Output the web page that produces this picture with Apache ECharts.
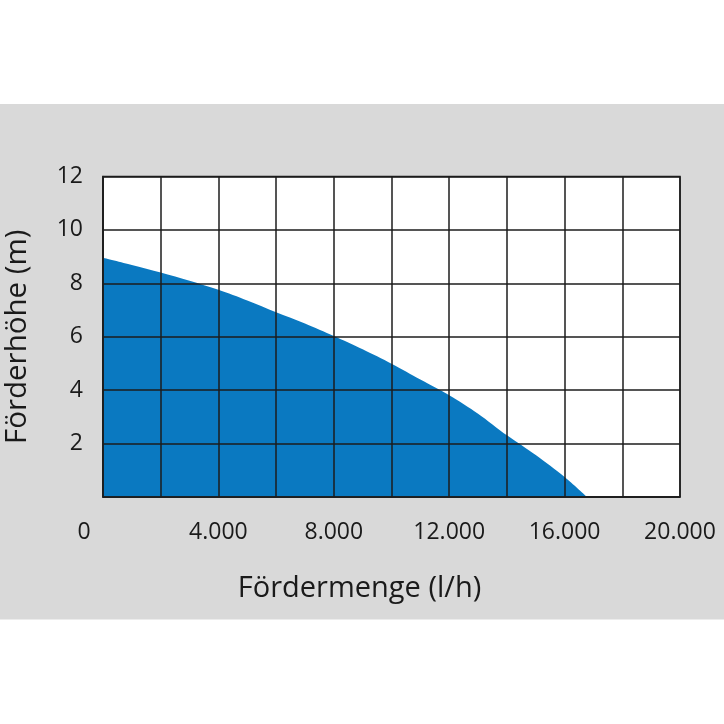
<!DOCTYPE html>
<html><head><meta charset="utf-8">
<script src="https://cdn.jsdelivr.net/npm/echarts@6/dist/echarts.min.js"></script>
<style>html,body{margin:0;padding:0;background:#fff}#c{width:724px;height:724px}</style>
</head><body><div id="c"></div>
<script>
var flowValues = [0, 1000, 2000, 3000, 4000, 5000, 6000, 7000, 8000, 9000, 10000, 11000, 12000, 13000, 14000, 15000, 16000, 16780];
var headValues = [8.96, 8.69, 8.41, 8.10, 7.76, 7.36, 6.92, 6.50, 6.03, 5.53, 4.99, 4.40, 3.81, 3.12, 2.31, 1.57, 0.75, 0];
var xAxisName = 'Fördermenge (l/h)';
var yAxisName = 'Förderhöhe (m)';

var seriesData = flowValues.map(function (f, i) { return [f, headValues[i]]; });
function fmtThousands(v) {
  return String(v).replace(/\B(?=(\d{3})+(?!\d))/g, '.');
}
var font = '"Open Sans", "Noto Sans", sans-serif';
var chart = echarts.init(document.getElementById('c'));
chart.setOption({
  backgroundColor: '#ffffff',
  animation: false,
  graphic: [{
    type: 'rect', z: -10, silent: true,
    shape: { x: 0, y: 104, width: 724, height: 515.5 },
    style: { fill: '#d9d9d9' }
  }],
  grid: {
    left: 103, right: 44, top: 176.5, bottom: 227,
    outerBoundsMode: 'none', containLabel: false,
    show: true, backgroundColor: '#ffffff', borderColor: '#1c1c1c', borderWidth: 1.5
  },
  xAxis: {
    type: 'value', min: 0, max: 20000, interval: 2000, z: 5,
    name: xAxisName, nameLocation: 'middle', nameGap: 77,
    nameTextStyle: { fontFamily: font, fontSize: 29, color: '#1a1a1a', padding: [0, 64, 0, 0] },
    axisLine: { show: true, lineStyle: { color: '#1c1c1c', width: 1.5 } },
    axisTick: { show: false },
    splitLine: { show: true, lineStyle: { color: '#1c1c1c', width: 1.5 } },
    axisLabel: {
      margin: 24, fontFamily: font, fontSize: 23, color: '#1a1a1a', showMinLabel: true, showMaxLabel: true,
      formatter: function (v) {
        if (v === 0) return '{z|0}';
        return v % 4000 === 0 ? fmtThousands(v) : '';
      },
      rich: { z: { fontFamily: font, fontSize: 23, color: '#1a1a1a', padding: [0, 38, 0, 0] } }
    }
  },
  yAxis: {
    type: 'value', min: 0, max: 12, interval: 2, z: 5,
    name: yAxisName, nameLocation: 'middle', nameGap: 70,
    nameTextStyle: { fontFamily: font, fontSize: 29.5, color: '#1a1a1a' },
    axisLine: { show: true, lineStyle: { color: '#1c1c1c', width: 1.5 } },
    axisTick: { show: false },
    splitLine: { show: true, lineStyle: { color: '#1c1c1c', width: 1.5 } },
    axisLabel: {
      margin: 20, fontFamily: font, fontSize: 23, color: '#1a1a1a',
      formatter: function (v) { return v === 0 ? '' : String(v); }
    }
  },
  series: [{
    type: 'line', data: seriesData, smooth: 0.3, symbol: 'none', z: 2,
    lineStyle: { width: 0, color: '#0a79c1' },
    areaStyle: { color: '#0a79c1', opacity: 1 }
  }]
});
</script></body></html>
